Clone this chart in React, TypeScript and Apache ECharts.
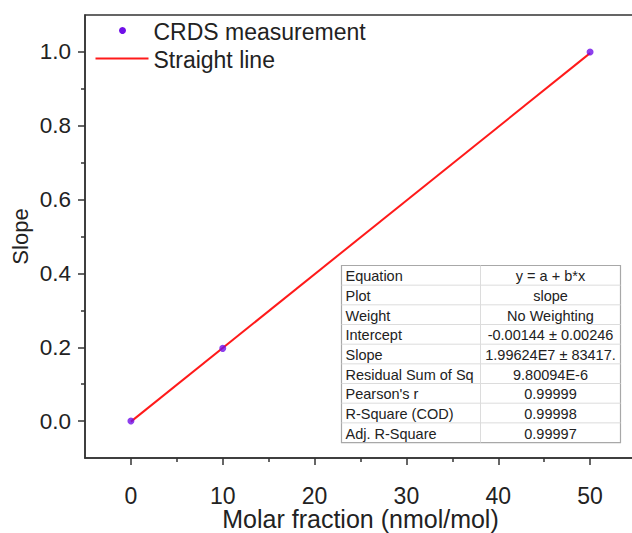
import React, { useEffect, useRef } from "react";
import * as echarts from "echarts";

const FONT = '"Liberation Sans", Arial, sans-serif';

const pointX = [0, 10, 50];
const pointY = [0.0, 0.197, 1.0];
const fitX = [0, 50];
const fitY = [-0.00144, 0.99668];

const xMajor = [0, 10, 20, 30, 40, 50];
const xMinor = [5, 15, 25, 35, 45];
const yMajor = [0, 0.2, 0.4, 0.6, 0.8, 1.0];
const yMinor = [0.1, 0.3, 0.5, 0.7, 0.9];

const legendNames = ["CRDS measurement", "Straight line"];

const tableLabels = [
  "Equation",
  "Plot",
  "Weight",
  "Intercept",
  "Slope",
  "Residual Sum of Sq",
  "Pearson's r",
  "R-Square (COD)",
  "Adj. R-Square",
];
const tableValues = [
  "y = a + b*x",
  "slope",
  "No Weighting",
  "-0.00144 \u00b1 0.00246",
  "1.99624E7 \u00b1 83417.",
  "9.80094E-6",
  "0.99999",
  "0.99998",
  "0.99997",
];

const POINT_COLOR = "#7010e8";
const LINE_COLOR = "#ff1a1a";

export default function App() {
  const ref = useRef<HTMLDivElement>(null);
  useEffect(() => {
    if (!ref.current) return;
    const chart = echarts.init(ref.current, null, { renderer: "svg" });

    const tX = 339, tY = 263, tW = 279, rowH = 19.67, col1 = 139;
    const tH = rowH * tableLabels.length;
    const children: any[] = [
      {
        type: "rect",
        shape: { x: 0, y: 0, width: tW, height: tH },
        style: { fill: "#fff", stroke: "#a8a8a8", lineWidth: 1.2 },
      },
      {
        type: "line",
        shape: { x1: col1, y1: 0, x2: col1, y2: tH },
        style: { stroke: "#dcdcdc", lineWidth: 1 },
      },
    ];
    tableLabels.forEach((lab, i) => {
      if (i > 0) {
        children.push({
          type: "line",
          shape: { x1: 0, y1: i * rowH, x2: tW, y2: i * rowH },
          style: { stroke: "#dcdcdc", lineWidth: 1 },
        });
      }
      children.push({
        type: "text",
        style: {
          text: lab,
          x: 4,
          y: i * rowH + rowH / 2 + 1,
          fontSize: 14.5,
          fontFamily: FONT,
          fill: "#222",
          verticalAlign: "middle",
          align: "left",
        },
      });
      children.push({
        type: "text",
        style: {
          text: tableValues[i],
          x: (col1 + tW) / 2,
          y: i * rowH + rowH / 2 + 1,
          fontSize: 14.5,
          fontFamily: FONT,
          fill: "#222",
          verticalAlign: "middle",
          align: "center",
        },
      });
    });

    const legendGraphic = {
      type: "group",
      left: 93,
      top: 20,
      z: 10,
      children: [
        {
          type: "circle",
          shape: { cx: 27, cy: 12, r: 3.5 },
          style: { fill: POINT_COLOR },
        },
        {
          type: "text",
          style: {
            text: legendNames[0],
            x: 58,
            y: 13,
            fontSize: 23,
            fontFamily: FONT,
            fill: "#222",
            verticalAlign: "middle",
          },
        },
        {
          type: "line",
          shape: { x1: 0, y1: 40, x2: 53, y2: 40 },
          style: { stroke: LINE_COLOR, lineWidth: 2 },
        },
        {
          type: "text",
          style: {
            text: legendNames[1],
            x: 58,
            y: 41,
            fontSize: 23,
            fontFamily: FONT,
            fill: "#222",
            verticalAlign: "middle",
          },
        },
      ],
    };

    const axisLineStyle = { color: "#333", width: 1.5 };

    chart.setOption({
      animation: false,
      backgroundColor: "#fff",
      grid: {
        left: 85,
        top: 15,
        width: 551,
        height: 443,
        show: true,
        borderColor: "#333",
        borderWidth: 1.5,
        containLabel: false,
        outerBoundsMode: "none",
      },
      xAxis: [
        {
          type: "value",
          min: -5,
          max: 55,
          interval: 5,
          name: "Molar fraction (nmol/mol)",
          nameLocation: "middle",
          nameGap: 49,
          nameMoveOverlap: false,
          nameTextStyle: { fontSize: 25, lineHeight: 24, fontFamily: FONT, color: "#222" },
          axisLine: { show: true, onZero: false, lineStyle: axisLineStyle },
          axisTick: { show: true, length: 7, customValues: xMajor, lineStyle: axisLineStyle },
          axisLabel: {
            customValues: xMajor,
            margin: 29,
            fontSize: 23,
            lineHeight: 18,
            fontFamily: FONT,
            color: "#222",
          },
          splitLine: { show: false },
        },
        {
          type: "value",
          min: -5,
          max: 55,
          interval: 5,
          position: "bottom",
          axisLine: { show: false, onZero: false },
          axisTick: { show: true, length: 4, customValues: xMinor, lineStyle: axisLineStyle },
          axisLabel: { show: false },
          splitLine: { show: false },
        },
      ],
      yAxis: [
        {
          type: "value",
          min: -0.1,
          max: 1.1,
          interval: 0.1,
          name: "Slope",
          nameLocation: "middle",
          nameGap: 54,
          nameMoveOverlap: false,
          nameTextStyle: { fontSize: 22, fontFamily: FONT, color: "#222" },
          axisLine: { show: true, onZero: false, lineStyle: axisLineStyle },
          axisTick: { show: true, length: 7, customValues: yMajor, lineStyle: axisLineStyle },
          axisLabel: {
            customValues: yMajor,
            formatter: (v: number) => v.toFixed(1),
            margin: 14,
            fontSize: 22.5,
            fontFamily: FONT,
            color: "#222",
          },
          splitLine: { show: false },
        },
        {
          type: "value",
          min: -0.1,
          max: 1.1,
          interval: 0.1,
          position: "left",
          axisLine: { show: false, onZero: false },
          axisTick: { show: true, length: 4, customValues: yMinor, lineStyle: axisLineStyle },
          axisLabel: { show: false },
          splitLine: { show: false },
        },
      ],
      series: [
        {
          name: legendNames[1],
          type: "line",
          symbol: "none",
          data: fitX.map((x, i) => [x, fitY[i]]),
          lineStyle: { color: LINE_COLOR, width: 2 },
          itemStyle: { color: LINE_COLOR },
          z: 2,
        },
        {
          name: legendNames[0],
          type: "scatter",
          symbol: "circle",
          symbolSize: 7,
          data: pointX.map((x, i) => [x, pointY[i]]),
          itemStyle: { color: POINT_COLOR },
          z: 3,
        },
      ],
      graphic: [
        legendGraphic,
        {
          type: "group",
          left: tX,
          top: tY,
          z: 10,
          children,
        },
      ],
    });
    return () => chart.dispose();
  }, []);
  return (
    <div
      ref={ref}
      style={{ position: "fixed", left: 0, top: 0, width: 632, height: 533, background: "#fff" }}
    />
  );
}
